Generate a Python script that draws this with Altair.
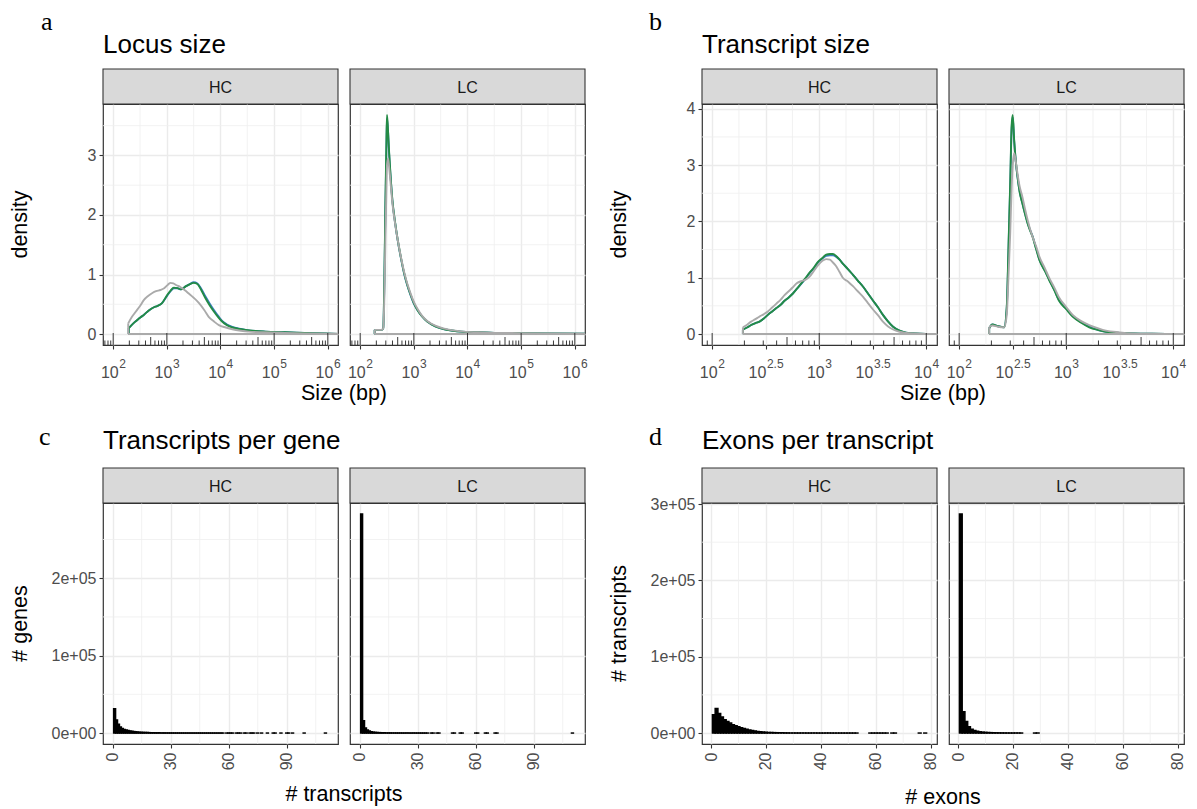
import altair as alt
import pandas as pd
import math

FONT = "Liberation Sans"
SERIF = "Liberation Serif"
W, H = 235, 241          # plot area of one facet panel
STRIP = 35               # facet strip height
GAP = 12                 # gap between panels
BLUE, GREEN, GREY = "#3a7dbf", "#238b45", "#aaaaaa"
MAJOR, MINOR = "#ebebeb", "#efefef"
LABEL_C, BORDER_C = "#4d4d4d", "#333333"
LW = 1.9

# ---------------- a: Locus size (log10 bp) ----------------
locus_hc_x = [2.29, 2.40, 2.48, 2.58, 2.67, 2.76, 2.82, 2.91, 3.01, 3.07, 3.13, 3.20, 3.26,
              3.35, 3.43, 3.50, 3.57, 3.64, 3.72, 3.80, 3.88, 3.96, 4.03, 4.12, 4.22, 4.35,
              4.47, 4.65, 4.84, 5.20, 5.71, 6.20]
locus_hc_green = [0.10, 0.20, 0.26, 0.33, 0.40, 0.45, 0.47, 0.52, 0.66, 0.73, 0.78, 0.77, 0.75,
                  0.80, 0.84, 0.86, 0.84, 0.74, 0.60, 0.48, 0.375, 0.28, 0.21, 0.15, 0.11, 0.085,
                  0.07, 0.05, 0.04, 0.03, 0.015, 0.003]
locus_hc_blue = [0.10, 0.20, 0.26, 0.33, 0.40, 0.45, 0.47, 0.52, 0.65, 0.72, 0.77, 0.77, 0.75,
                 0.80, 0.84, 0.87, 0.85, 0.76, 0.63, 0.51, 0.40, 0.30, 0.22, 0.16, 0.12, 0.09,
                 0.07, 0.05, 0.04, 0.03, 0.015, 0.003]
locus_hc_grey_x = [2.28, 2.35, 2.42, 2.50, 2.57, 2.65, 2.73, 2.80, 2.88, 2.95, 3.02, 3.07, 3.12,
                   3.18, 3.25, 3.33, 3.41, 3.50, 3.60, 3.70, 3.78, 3.88, 3.97, 4.10, 4.22, 4.38,
                   4.53, 4.80, 5.20, 5.60, 6.20]
locus_hc_grey = [0.18, 0.29, 0.375, 0.47, 0.57, 0.64, 0.69, 0.72, 0.74, 0.77, 0.83, 0.86, 0.85,
                 0.82, 0.79, 0.74, 0.68, 0.61, 0.52, 0.40, 0.29, 0.21, 0.15, 0.11, 0.08, 0.055,
                 0.04, 0.03, 0.02, 0.012, 0.005]

locus_lc_x = [2.27, 2.33, 2.40, 2.43, 2.45, 2.47, 2.49, 2.50, 2.52, 2.54, 2.57, 2.60, 2.65, 2.70,
              2.76, 2.82, 2.88, 2.94, 3.00, 3.07, 3.15, 3.25, 3.40, 3.57, 3.70, 3.88, 4.20, 4.50,
              5.00, 5.43, 6.20]
locus_lc_green = [0.07, 0.07, 0.07, 0.10, 0.90, 2.20, 3.30, 3.68, 3.40, 3.04, 2.60, 2.25, 1.88,
                  1.58, 1.28, 1.02, 0.82, 0.66, 0.52, 0.40, 0.30, 0.21, 0.13, 0.08, 0.06, 0.04,
                  0.03, 0.02, 0.015, 0.01, 0.005]
locus_lc_blue = [0.07, 0.07, 0.07, 0.10, 0.85, 2.10, 3.20, 3.62, 3.38, 3.02, 2.60, 2.24, 1.87,
                 1.57, 1.27, 1.01, 0.81, 0.65, 0.51, 0.40, 0.30, 0.21, 0.13, 0.08, 0.06, 0.04,
                 0.03, 0.02, 0.015, 0.01, 0.005]
locus_lc_grey = [0.07, 0.07, 0.07, 0.10, 0.60, 1.60, 2.50, 2.85, 2.95, 2.80, 2.50, 2.20, 1.86,
                 1.58, 1.29, 1.04, 0.84, 0.68, 0.54, 0.42, 0.31, 0.22, 0.14, 0.09, 0.065, 0.045,
                 0.03, 0.02, 0.015, 0.01, 0.005]

# ---------------- b: Transcript size (log10 bp) ----------------
tx_hc_x = [2.287, 2.33, 2.364, 2.40, 2.442, 2.48, 2.52, 2.56, 2.60, 2.64, 2.676, 2.715, 2.754,
           2.79, 2.832, 2.87, 2.91, 2.95, 2.988, 3.03, 3.065, 3.10, 3.128, 3.16, 3.19, 3.22,
           3.27, 3.315, 3.36, 3.41, 3.455, 3.50, 3.55, 3.595, 3.64, 3.69, 3.75, 3.81, 3.90,
           4.00, 4.15]
tx_hc_green = [0.08, 0.12, 0.16, 0.19, 0.22, 0.27, 0.34, 0.40, 0.46, 0.52, 0.59, 0.65, 0.72,
               0.80, 0.90, 0.99, 1.09, 1.18, 1.28, 1.35, 1.41, 1.42, 1.42, 1.38, 1.32, 1.25,
               1.15, 1.05, 0.95, 0.84, 0.72, 0.60, 0.47, 0.34, 0.23, 0.13, 0.06, 0.025, 0.008,
               0.003, 0.001]
tx_hc_blue = [0.08, 0.12, 0.16, 0.19, 0.22, 0.27, 0.34, 0.40, 0.46, 0.52, 0.59, 0.65, 0.72,
              0.80, 0.89, 0.98, 1.08, 1.17, 1.27, 1.34, 1.39, 1.40, 1.40, 1.37, 1.32, 1.25,
              1.15, 1.05, 0.95, 0.84, 0.72, 0.60, 0.47, 0.34, 0.23, 0.13, 0.06, 0.025, 0.008,
              0.003, 0.001]
tx_hc_grey = [0.12, 0.17, 0.22, 0.26, 0.31, 0.35, 0.40, 0.47, 0.54, 0.61, 0.69, 0.76, 0.83,
              0.90, 0.94, 0.96, 1.02, 1.12, 1.22, 1.30, 1.33, 1.32, 1.27, 1.20, 1.10, 1.00,
              0.93, 0.85, 0.76, 0.66, 0.55, 0.44, 0.33, 0.22, 0.14, 0.08, 0.04, 0.02, 0.008,
              0.003, 0.001]

tx_lc_x = [2.28, 2.31, 2.36, 2.42, 2.445, 2.46, 2.477, 2.49, 2.50, 2.514, 2.53, 2.545, 2.565,
           2.59, 2.615, 2.64, 2.66, 2.685, 2.72, 2.75, 2.80, 2.84, 2.89, 2.93, 3.00, 3.06, 3.14,
           3.215, 3.30, 3.37, 3.50, 3.62, 3.80, 4.15]
tx_lc_green = [0.10, 0.17, 0.14, 0.12, 0.50, 1.50, 2.70, 3.70, 3.89, 3.44, 3.05, 2.79, 2.52,
               2.32, 2.13, 1.96, 1.85, 1.73, 1.50, 1.31, 1.12, 0.96, 0.77, 0.60, 0.44, 0.31,
               0.20, 0.12, 0.07, 0.04, 0.02, 0.01, 0.004, 0.001]
tx_lc_blue = [0.10, 0.17, 0.14, 0.12, 0.48, 1.45, 2.65, 3.65, 3.85, 3.42, 3.04, 2.79, 2.53,
              2.33, 2.14, 1.97, 1.86, 1.74, 1.51, 1.32, 1.13, 0.97, 0.78, 0.61, 0.45, 0.32,
              0.21, 0.13, 0.07, 0.04, 0.02, 0.01, 0.004, 0.001]
tx_lc_grey = [0.12, 0.15, 0.13, 0.12, 0.35, 1.00, 1.80, 2.60, 3.00, 3.21, 3.05, 2.85, 2.62,
              2.44, 2.22, 2.02, 1.88, 1.73, 1.55, 1.37, 1.17, 1.00, 0.82, 0.66, 0.48, 0.34,
              0.23, 0.16, 0.10, 0.06, 0.03, 0.012, 0.004, 0.001]

# ---------------- c: Transcripts per gene (counts) ----------------
tpg_hc_n = list(range(1, 58)) + [59, 60, 61, 62, 64, 65, 66, 68, 69, 71, 72, 73, 75, 77, 80,
                                 83, 84, 87, 90, 91, 93, 99, 110]
tpg_hc_count = [31500, 17000, 11500, 7800, 5800, 4600, 3800, 3200, 2700, 2300, 1900, 1600,
                1350, 1150, 950, 800, 680, 580, 490, 420, 360, 310, 270, 230, 200, 170, 150,
                130, 110, 95, 82, 72, 63, 55, 48, 42, 37, 32, 28, 25, 22, 19, 17, 15, 13, 12,
                10, 9, 8, 7, 6, 5, 5, 4, 3, 3, 2,
                2, 1, 2, 1, 1, 2, 1, 1, 1, 1, 2, 1, 1, 1, 1, 1, 1, 1, 1, 1, 1, 1, 1]
tpg_lc_n = list(range(1, 36)) + [37, 38, 40, 41, 48, 49, 52, 53, 60, 61, 65, 66, 70, 71, 110]
tpg_lc_count = [283000, 16000, 6500, 3800, 2500, 1700, 1200, 900, 700, 550, 430, 340, 270,
                220, 180, 150, 120, 100, 80, 65, 52, 42, 34, 27, 22, 3, 2, 2, 2, 1, 2, 1, 1,
                1, 1,
                1, 1, 1, 1, 1, 1, 1, 1, 1, 1, 1, 1, 1, 1, 1]

# ---------------- d: Exons per transcript (counts) ----------------
ept_hc_n = list(range(1, 54)) + [58, 59, 60, 61, 62, 63, 64, 66, 67, 76, 78]
ept_hc_count = [24000, 32000, 25500, 21000, 17500, 15000, 13000, 11000, 9600, 8200, 7000,
                6000, 4900, 4000, 3300, 2600, 2100, 1700, 1350, 1050, 850, 680, 540, 430, 350,
                280, 225, 180, 145, 118, 95, 77, 62, 50, 41, 33, 27, 22, 18, 15, 12, 10, 8, 7,
                6, 5, 4, 4, 3, 3, 2, 2, 1,
                1, 1, 1, 1, 1, 1, 1, 1, 1, 1, 1]
ept_lc_n = list(range(1, 24)) + [28, 29]
ept_lc_count = [287000, 28000, 15200, 8200, 5000, 3300, 2300, 1600, 1200, 900, 680, 520, 400,
                300, 230, 175, 130, 100, 75, 55, 40, 28, 18,
                1, 1]


def sc(lo, hi):
    return alt.Scale(domain=[lo, hi], nice=False, zero=False)


class Frame:
    """Shared x/y scales and axes of one panel; every layer uses the same ones."""

    def __init__(self, xdom, ydom, x_axis, y_axis):
        self.xs, self.ys = sc(*xdom), sc(*ydom)
        self.xa, self.ya = x_axis, y_axis

    def x(self, field):
        return alt.X(field, type="quantitative", scale=self.xs, axis=self.xa)

    def y(self, field):
        return alt.Y(field, type="quantitative", scale=self.ys, axis=self.ya)


def base_panel(fr, x_minor, y_minor, strip_label):
    """Minor grid and facet strip of one panel."""
    gx = alt.Chart(pd.DataFrame({"v": x_minor})).mark_rule(
        color=MINOR, strokeWidth=0.8).encode(x=fr.x("v"))
    gy = alt.Chart(pd.DataFrame({"v": y_minor})).mark_rule(
        color=MINOR, strokeWidth=0.8).encode(y=fr.y("v"))
    sdf = pd.DataFrame({"label": [strip_label]})
    strip_box = alt.Chart(sdf).mark_rect(
        fill="#d9d9d9", stroke=BORDER_C, strokeWidth=1.1).encode(
        x=alt.value(0), x2=alt.value(W), y=alt.value(-STRIP), y2=alt.value(0))
    strip_txt = alt.Chart(sdf).mark_text(
        font=FONT, fontSize=16, color="#1a1a1a", baseline="middle").encode(
        x=alt.value(W / 2), y=alt.value(-STRIP / 2 + 1), text="label:N")
    return [gx, gy], [strip_box, strip_txt]


def text_layer(txt, x, y, size, font=FONT, align="left", angle=0, baseline="alphabetic"):
    return alt.Chart(pd.DataFrame({"t": [txt]})).mark_text(
        font=font, fontSize=size, color="black", align=align, angle=angle,
        baseline=baseline).encode(x=alt.value(x), y=alt.value(y), text="t:N")


def density_series(fr, xv, yv, colour):
    df = pd.DataFrame({"x": xv, "y": yv})
    ends = pd.DataFrame({"x0": [xv[0]], "x1": [xv[-1]], "y0": [yv[0]], "zero": [0.0]})
    base = alt.Chart(ends).mark_rule(color=colour, strokeWidth=LW, clip=True).encode(
        x=fr.x("x0"), x2="x1:Q", y=fr.y("zero"))
    rise = alt.Chart(ends).mark_rule(color=colour, strokeWidth=LW, clip=True).encode(
        x=fr.x("x0"), y=fr.y("zero"), y2="y0:Q")
    line = alt.Chart(df).mark_line(color=colour, strokeWidth=LW, interpolate="monotone",
                                   clip=True, strokeJoin="round").encode(
        x=fr.x("x"), y=fr.y("y"))
    return [base, rise, line]


def log_ticks(fr, lo, hi):
    """annotation_logticks-style marks along the bottom of a log panel."""
    out = []
    for mults, length in (([1], 12), ([5], 8), ([2, 3, 4, 6, 7, 8, 9], 4.5)):
        pos = [d + math.log10(m) for d in range(1, 7) for m in mults]
        pos = [p for p in pos if lo <= p <= hi]
        out.append(alt.Chart(pd.DataFrame({"v": pos})).mark_rule(
            color="#222222", strokeWidth=0.9).encode(
            x=fr.x("v"), y=alt.value(H), y2=alt.value(H - length)))
    return out


def power_labels(fr, exps):
    """Tick labels written as 10 with a raised exponent."""
    out = []
    ints = [e for e in exps if float(e).is_integer()]
    fracs = [e for e in exps if not float(e).is_integer()]
    for group, shift in ((ints, 5.5), (fracs, 0.6)):
        if not group:
            continue
        df = pd.DataFrame({"v": group, "base": ["10"] * len(group),
                           "exp": [("%g" % e) for e in group]})
        out.append(alt.Chart(df).mark_text(
            font=FONT, fontSize=16, color=LABEL_C, align="right", dx=shift).encode(
            x=fr.x("v"), y=alt.value(H + 28), text="base:N"))
        out.append(alt.Chart(df).mark_text(
            font=FONT, fontSize=12, color=LABEL_C, align="left", dx=shift + 0.6).encode(
            x=fr.x("v"), y=alt.value(H + 19), text="exp:N"))
    return out


def y_axis(values, show, label_expr=None):
    if show:
        kw = dict(values=values, grid=True, labels=True, ticks=True, title=None)
        if label_expr:
            kw["labelExpr"] = label_expr
        else:
            kw["format"] = "d"
        return alt.Axis(**kw)
    return alt.Axis(values=values, grid=True, labels=False, ticks=False, title=None)


def density_panel(label, xdom, ydom, majors_x, minors_x, majors_y, minors_y, exps, series,
                  show_y, extras):
    fr = Frame(xdom, ydom,
               alt.Axis(values=majors_x, grid=True, labels=False, ticks=True, title=None),
               y_axis(majors_y, show_y))
    grid, strip = base_panel(fr, minors_x, minors_y, label)
    layers = list(grid)
    for xv, yv, col in series:
        layers += density_series(fr, xv, yv, col)
    layers += log_ticks(fr, *xdom)
    layers += power_labels(fr, exps)
    layers += strip + extras
    return alt.layer(*layers).properties(width=W, height=H)


def hist_panel(label, xdom, ydom, majors_x, minors_x, majors_y, minors_y, ns, counts, show_y,
               extras):
    x_ax = alt.Axis(values=majors_x, grid=True, labels=True, ticks=True, title=None,
                    labelAngle=270, labelAlign="right", labelBaseline="middle",
                    labelPadding=4)
    y_ax = y_axis(majors_y, show_y,
                  "datum.value == 0 ? '0e+00' : format(datum.value / 100000, 'd') + 'e+05'")
    fr = Frame(xdom, ydom, x_ax, y_ax)
    grid, strip = base_panel(fr, minors_x, minors_y, label)
    df = pd.DataFrame({"n": ns, "count": counts})
    df["lo"] = df["n"] - 0.5
    df["hi"] = df["n"] + 0.5
    df["zero"] = 0
    bars = alt.Chart(df).mark_rect(fill="black", stroke="black", strokeWidth=1.5).encode(
        x=fr.x("lo"), x2="hi:Q", y=fr.y("zero"), y2="count:Q")
    return alt.layer(*grid, bars, *strip, *extras).properties(width=W, height=H)


def headings(letter, title, letter_dx, title_dy, letter_dy):
    return [text_layer(letter, letter_dx, letter_dy, 26, font=SERIF),
            text_layer(title, 0, title_dy, 26)]


def y_title(txt):
    return text_layer(txt, -82, H / 2, 21.5, align="center", angle=270, baseline="middle")


def x_title(txt, dy):
    return text_layer(txt, W + GAP / 2, H + dy, 21.5, align="center")


def spacer():
    """Empty column separating the two figure halves."""
    return alt.Chart(pd.DataFrame({"t": [""]})).mark_text().encode(
        text="t:N"
    ).properties(width=117 - 2 * GAP, height=H,
                 view=alt.ViewBackground(strokeOpacity=0, fillOpacity=0))


# ---- row 1: density panels ----
A_X, A_Y = (1.81, 6.19), (-0.184, 3.864)
B_X, B_Y = (1.905, 4.10), (-0.195, 4.085)

a_hc = density_panel(
    "HC", A_X, A_Y, [2, 3, 4, 5, 6], [2.5, 3.5, 4.5, 5.5], [0, 1, 2, 3], [0.5, 1.5, 2.5, 3.5],
    [2, 3, 4, 5, 6],
    [(locus_hc_x, locus_hc_blue, BLUE), (locus_hc_x, locus_hc_green, GREEN),
     (locus_hc_grey_x, locus_hc_grey, GREY)],
    True,
    headings("a", "Locus size", -62, -51, -74) + [y_title("density"), x_title("Size (bp)", 55)])
a_lc = density_panel(
    "LC", A_X, A_Y, [2, 3, 4, 5, 6], [2.5, 3.5, 4.5, 5.5], [0, 1, 2, 3], [0.5, 1.5, 2.5, 3.5],
    [2, 3, 4, 5, 6],
    [(locus_lc_x, locus_lc_blue, BLUE), (locus_lc_x, locus_lc_green, GREEN),
     (locus_lc_x, locus_lc_grey, GREY)],
    False, [])
b_hc = density_panel(
    "HC", B_X, B_Y, [2, 2.5, 3, 3.5, 4], [2.25, 2.75, 3.25, 3.75], [0, 1, 2, 3, 4],
    [0.5, 1.5, 2.5, 3.5], [2, 2.5, 3, 3.5, 4],
    [(tx_hc_x, tx_hc_blue, BLUE), (tx_hc_x, tx_hc_green, GREEN), (tx_hc_x, tx_hc_grey, GREY)],
    True,
    headings("b", "Transcript size", -53, -51, -74) + [y_title("density"),
                                                        x_title("Size (bp)", 55)])
b_lc = density_panel(
    "LC", B_X, B_Y, [2, 2.5, 3, 3.5, 4], [2.25, 2.75, 3.25, 3.75], [0, 1, 2, 3, 4],
    [0.5, 1.5, 2.5, 3.5], [2, 2.5, 3, 3.5, 4],
    [(tx_lc_x, tx_lc_blue, BLUE), (tx_lc_x, tx_lc_green, GREEN), (tx_lc_x, tx_lc_grey, GREY)],
    False, [])

# ---- row 2: count histograms ----
C_X, C_Y = (-5.0, 116.5), (-14150, 297150)
D_X, D_Y = (-3.3, 82.3), (-14350, 301350)

c_hc = hist_panel("HC", C_X, C_Y, [0, 30, 60, 90], [15, 45, 75, 105], [0, 100000, 200000],
                  [50000, 150000, 250000], tpg_hc_n, tpg_hc_count, True,
                  headings("c", "Transcripts per gene", -64, -54, -58)
                  + [y_title("# genes"), x_title("# transcripts", 57)])
c_lc = hist_panel("LC", C_X, C_Y, [0, 30, 60, 90], [15, 45, 75, 105], [0, 100000, 200000],
                  [50000, 150000, 250000], tpg_lc_n, tpg_lc_count, False, [])
d_hc = hist_panel("HC", D_X, D_Y, [0, 20, 40, 60, 80], [10, 30, 50, 70],
                  [0, 100000, 200000, 300000], [50000, 150000, 250000], ept_hc_n, ept_hc_count,
                  True,
                  headings("d", "Exons per transcript", -53, -54, -58)
                  + [y_title("# transcripts"), x_title("# exons", 60)])
d_lc = hist_panel("LC", D_X, D_Y, [0, 20, 40, 60, 80], [10, 30, 50, 70],
                  [0, 100000, 200000, 300000], [50000, 150000, 250000], ept_lc_n, ept_lc_count,
                  False, [])

chart = alt.concat(
    a_hc, a_lc, spacer(), b_hc, b_lc,
    c_hc, c_lc, spacer(), d_hc, d_lc,
    columns=5, spacing=alt.RowColnumber(row=158, column=GAP), bounds="flush"
).properties(
    padding={"left": 9, "top": 8, "right": 4, "bottom": 4}
).configure(font=FONT).configure_view(
    stroke=BORDER_C, strokeWidth=1.2, fill="white"
).configure_axis(
    domain=False, gridColor=MAJOR, gridWidth=1.4, tickColor=BORDER_C, tickSize=4,
    tickWidth=1.1, labelColor=LABEL_C, labelFont=FONT, labelFontSize=16, labelPadding=3
)

chart.save("out.html", embed_options={"renderer": "svg", "actions": False})
